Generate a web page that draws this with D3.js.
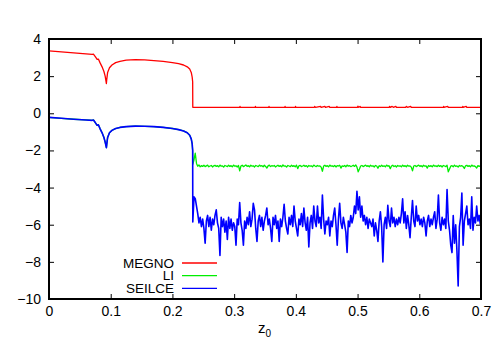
<!DOCTYPE html>
<html>
<head>
<meta charset="utf-8">
<script src="https://cdn.jsdelivr.net/npm/d3@7"></script>
<style>
  body { margin: 0; background: #fff; }
  text { font-family: "Liberation Sans", Arial, sans-serif; }
</style>
</head>
<body>
<div class="chart"></div>
<script>
// smooth regime (z0 < 0.233), shared z positions
const zSmooth = [0, 0.02, 0.04, 0.06, 0.07, 0.072, 0.075, 0.078, 0.08, 0.083, 0.086, 0.089,
  0.091, 0.093, 0.0935, 0.095, 0.098, 0.102, 0.108, 0.115, 0.125, 0.14, 0.155, 0.17,
  0.185, 0.2, 0.21, 0.218, 0.224, 0.228, 0.2305, 0.232, 0.2328];
const megnoSmooth = [3.36, 3.31, 3.25, 3.20, 3.17, 3.19, 3.05, 2.90, 2.92, 2.70, 2.50, 2.25,
  2.00, 1.60, 1.80, 2.20, 2.45, 2.60, 2.73, 2.80, 2.86, 2.89, 2.88, 2.84,
  2.79, 2.73, 2.67, 2.60, 2.50, 2.38, 2.20, 1.95, 1.70];
// LI lies under SEILCE here (same curve)
const seilceSmooth = [-0.22, -0.27, -0.32, -0.36, -0.38, -0.36, -0.50, -0.65, -0.62, -0.85, -1.05, -1.30,
  -1.55, -1.85, -1.70, -1.30, -1.05, -0.92, -0.82, -0.76, -0.72, -0.69, -0.70, -0.72,
  -0.76, -0.82, -0.88, -0.95, -1.05, -1.18, -1.38, -1.65, -2.00];

// chaotic regime: samples from z0 = 0.233, every 0.002
const zStart = 0.233, zStep = 0.002;
const seilceNoisy = [
  -5.85, -4.5, -4.6, -5.0, -5.4, -5.9, -5.6, -6.1, -5.7, -6.2,
  -7.0, -5.8, -5.5, -6.1, -5.6, -6.3, -5.7, -6.0, -5.5, -5.2,
  -5.9, -6.2, -7.65, -5.6, -6.1, -5.7, -6.4, -5.8, -6.8, -5.6,
  -6.2, -5.7, -6.3, -5.9, -6.1, -7.1, -5.7, -6.0, -4.8, -5.9,
  -6.3, -7.1, -5.8, -6.2, -5.6, -6.0, -5.3, -6.1, -5.7, -4.85,
  -5.2, -6.2, -6.9, -5.8, -5.5, -6.1, -5.6, -6.3, -5.8, -5.5,
  -5.1, -6.0, -5.7, -6.2, -6.9, -5.6, -6.0, -5.5, -6.2, -5.8,
  -6.9, -5.7, -6.1, -5.6, -4.9, -5.8, -6.2, -6.5, -5.6, -6.0,
  -5.5, -6.1, -5.0, -5.8, -6.2, -6.6, -5.7, -6.0, -5.4, -6.1,
  -5.1, -5.9, -6.3, -5.6, -7.2, -5.9, -5.5, -6.2, -5.0, -5.8,
  -6.1, -5.0, -5.9, -5.6, -6.2, -4.4, -5.7, -6.5, -5.8, -6.0,
  -5.6, -6.6, -5.8, -6.1, -5.5, -5.1, -6.0, -7.1, -5.7, -4.85,
  -5.9, -6.2, -5.6, -6.0, -6.4, -7.5, -5.8, -6.1, -5.5, -5.9,
  -5.6, -5.0, -5.4, -4.2, -5.2, -4.5, -5.6, -5.0, -5.8, -5.5,
  -6.0, -5.6, -6.2, -5.7, -5.9, -6.1, -5.7, -6.6, -5.9, -6.3,
  -6.9, -5.8, -5.3, -6.1, -8.0, -6.0, -5.6, -6.2, -4.95, -5.8,
  -6.1, -5.1, -5.9, -5.6, -6.1, -5.7, -6.0, -5.6, -5.9, -5.4,
  -4.6, -5.9, -5.3, -6.2, -5.5, -6.0, -6.7, -5.6, -4.7, -5.8,
  -6.1, -5.0, -5.8, -5.5, -6.0, -5.7, -6.1, -5.6, -5.9, -6.6,
  -5.8, -5.5, -6.1, -5.7, -6.0, -5.6, -5.3, -6.2, -5.7, -4.4,
  -5.9, -6.3, -5.6, -6.0, -5.7, -6.2, -4.1, -5.8, -6.3, -7.1,
  -7.5, -5.5, -7.0, -6.0, -7.4, -9.3, -6.1, -5.6, -4.3, -7.1,
  -5.8, -5.4, -5.0, -6.0, -5.7, -6.2, -4.5, -6.3, -5.6, -5.9,
  -5.0, -5.8, -5.5, -6.0];
const liNoisy = [
  -2.75, -2.50, -2.15, -2.70, -2.85, -2.78, -2.88, -2.82, -2.86, -2.80,
  -2.87, -2.83, -2.79, -2.88, -2.84, -2.81, -2.89, -2.83, -2.80, -2.86,
  -2.82, -2.88, -2.79, -2.85, -2.83, -2.90, -2.81, -2.84, -2.87, -2.80,
  -2.86, -2.82, -2.88, -2.79, -2.85, -2.83, -2.89, -2.81, -3.10, -2.84,
  -2.80, -2.87, -2.83, -2.78, -2.86, -2.82, -2.88, -2.80, -2.85, -2.83,
  -2.89, -2.81, -2.84, -2.87, -2.79, -2.85, -2.82, -2.88, -2.80, -2.86,
  -2.95, -2.83, -2.79, -2.87, -2.82, -2.85, -2.81, -2.89, -2.84, -2.80,
  -2.86, -2.82, -2.88, -2.78, -2.85, -2.83, -2.90, -2.81, -2.84, -2.87,
  -2.80, -2.86, -2.82, -2.88, -2.79, -2.98, -2.83, -2.81, -2.87, -2.84,
  -2.80, -2.86, -2.82, -2.89, -2.81, -2.85, -2.83, -2.88, -2.79, -2.84,
  -2.87, -2.81, -2.85, -2.83, -2.90, -3.12, -2.84, -2.80, -2.86, -2.82,
  -2.88, -2.79, -2.85, -2.83, -2.87, -2.81, -2.89, -2.82, -2.84, -2.80,
  -2.95, -2.83, -2.86, -2.81, -2.88, -2.79, -2.85, -2.82, -2.87, -2.84,
  -2.80, -2.86, -2.78, -2.90, -3.15, -3.00, -2.84, -2.81, -2.87, -2.83,
  -2.79, -2.86, -2.82, -2.88, -2.80, -2.85, -2.83, -2.89, -2.81, -2.84,
  -2.96, -2.82, -2.87, -2.80, -2.86, -2.83, -2.88, -2.79, -2.85, -2.82,
  -2.98, -2.84, -2.80, -2.87, -2.82, -2.89, -2.81, -2.85, -2.83, -2.88,
  -2.79, -2.86, -2.82, -2.88, -2.80, -2.85, -2.83, -2.90, -3.10, -2.84,
  -2.81, -2.87, -2.83, -2.79, -2.86, -2.82, -2.88, -2.80, -2.85, -2.83,
  -2.95, -2.81, -2.86, -2.82, -2.88, -2.79, -2.85, -2.83, -2.87, -2.80,
  -2.86, -2.82, -2.89, -2.81, -2.84, -2.87, -2.80, -3.15, -3.00, -2.85,
  -2.82, -2.88, -2.79, -2.86, -2.83, -2.90, -2.81, -2.85, -2.82, -2.87,
  -2.97, -2.83, -2.80, -2.86, -2.82, -2.88, -2.79, -2.85, -2.83, -2.87,
  -2.95, -2.82, -2.86, -2.83];
// MEGNO after the jump: flat with tiny blips [z0, value]
const megnoTail = [[0.233, 0.32], [0.309, 0.32], [0.3095, 0.37], [0.310, 0.32], [0.334, 0.32], [0.3345, 0.37],
  [0.335, 0.32], [0.356, 0.32], [0.3565, 0.37], [0.357, 0.32], [0.382, 0.32], [0.3825, 0.37], [0.383, 0.32],
  [0.399, 0.32], [0.3995, 0.37], [0.400, 0.32], [0.430, 0.32], [0.4305, 0.37], [0.432, 0.32], [0.440, 0.37],
  [0.441, 0.32], [0.447, 0.37], [0.448, 0.32], [0.454, 0.37], [0.455, 0.32], [0.466, 0.32], [0.4665, 0.37],
  [0.467, 0.32], [0.500, 0.32], [0.5005, 0.38], [0.502, 0.32], [0.504, 0.37], [0.505, 0.32], [0.551, 0.32],
  [0.552, 0.37], [0.553, 0.32], [0.556, 0.37], [0.558, 0.32], [0.562, 0.37], [0.563, 0.32], [0.578, 0.32],
  [0.579, 0.37], [0.581, 0.32], [0.586, 0.37], [0.587, 0.32], [0.639, 0.32], [0.6395, 0.37], [0.640, 0.32],
  [0.646, 0.37], [0.647, 0.32], [0.670, 0.32], [0.6705, 0.37], [0.671, 0.32], [0.676, 0.37], [0.677, 0.32],
  [0.700, 0.32]];

const seriesNames = ['MEGNO', 'LI', 'SEILCE'];
const seriesColors = ['#ff0000', '#00ee00', '#0000ff'];
const xTicks = [0, 0.1, 0.2, 0.3, 0.4, 0.5, 0.6, 0.7];
const yTicks = [4, 2, 0, -2, -4, -6, -8, -10];

// build [z, v] lists
const zNoisy = seilceNoisy.map((d, i) => zStart + i * zStep);
const pairs = (zs, vs) => zs.map((z, i) => [z, vs[i]]);
const series = [
  pairs(zSmooth, megnoSmooth).concat(megnoTail),
  pairs(zSmooth, seilceSmooth).concat(pairs(zNoisy, liNoisy)),
  pairs(zSmooth, seilceSmooth).concat(pairs(zNoisy, seilceNoisy))
];

const W = 502, H = 352;
const margin = {top: 39, right: 21, bottom: 53, left: 49};
const cw = W - margin.left - margin.right;
const ch = H - margin.top - margin.bottom;

const svg = d3.select('.chart').append('svg')
  .attr('width', W).attr('height', H);
const g = svg.append('g').attr('transform', `translate(${margin.left},${margin.top})`);

const x = d3.scaleLinear().domain([0, 0.7]).range([0, cw]);
const y = d3.scaleLinear().domain([-10, 4]).range([ch, 0]);

g.append('clipPath').attr('id', 'clip')
  .append('rect').attr('width', cw).attr('height', ch);

const line = d3.line().x(d => x(d[0])).y(d => y(d[1]));
g.append('g').attr('clip-path', 'url(#clip)')
  .selectAll('path').data(series).join('path')
  .attr('d', line)
  .attr('fill', 'none')
  .attr('stroke', (d, i) => seriesColors[i])
  .attr('stroke-width', (d, i) => i === 2 ? 1.6 : 1.3)
  .attr('stroke-linejoin', 'round');

// axes, ticks pointing inward
const fmtX = d3.format('.1~f');
const fmtY = d3.format('d');
function styleAxis(sel) {
  sel.select('.domain').remove();
  sel.selectAll('.tick line').attr('stroke', '#000').attr('stroke-width', 1);
  sel.selectAll('.tick text').attr('fill', '#000').style('font-size', '14px');
}
g.append('g').attr('transform', `translate(0,${ch})`)
  .call(d3.axisBottom(x).tickValues(xTicks).tickFormat(fmtX).tickSizeInner(-5).tickSizeOuter(0).tickPadding(7))
  .call(styleAxis);
g.append('g')
  .call(d3.axisTop(x).tickValues(xTicks.slice(1, -1)).tickFormat('').tickSizeInner(-5).tickSizeOuter(0))
  .call(styleAxis);
g.append('g')
  .call(d3.axisLeft(y).tickValues(yTicks).tickFormat(fmtY).tickSizeInner(-5).tickSizeOuter(0).tickPadding(8))
  .call(styleAxis);
g.append('g').attr('transform', `translate(${cw},0)`)
  .call(d3.axisRight(y).tickValues(yTicks.slice(1, -1)).tickFormat('').tickSizeInner(-5).tickSizeOuter(0))
  .call(styleAxis);

g.append('rect').attr('width', cw).attr('height', ch)
  .attr('fill', 'none').attr('stroke', '#000').attr('stroke-width', 2);

// x label z0
const xl = svg.append('text').attr('x', 258).attr('y', 333).style('font-size', '15px').attr('fill', '#000');
xl.append('tspan').text('z');
xl.append('tspan').attr('dy', 4).style('font-size', '10px').text('0');

// legend
const legend = svg.append('g').attr('transform', 'translate(174,263)');
seriesNames.forEach((name, i) => {
  const row = legend.append('g').attr('transform', `translate(0,${i * 12.7})`);
  row.append('text').attr('x', 0).attr('y', 4.5).attr('text-anchor', 'end')
    .style('font-size', '13.5px').attr('fill', '#000').text(name);
  row.append('line').attr('x1', 8).attr('x2', 43).attr('y1', 0).attr('y2', 0)
    .attr('stroke', seriesColors[i]).attr('stroke-width', 1.3);
});
</script>
</body>
</html>
